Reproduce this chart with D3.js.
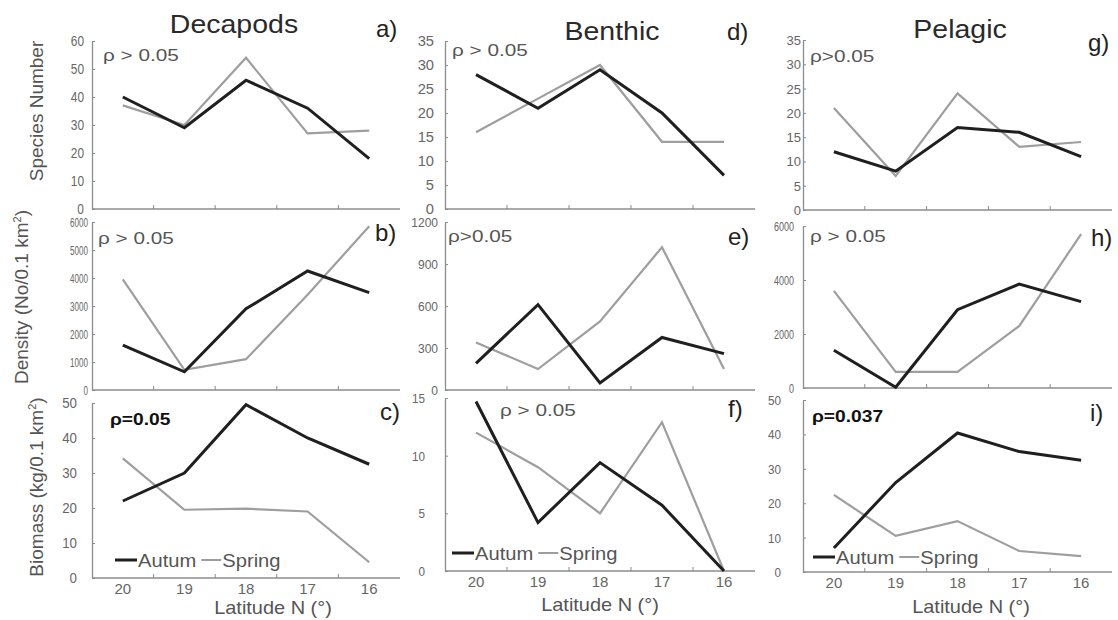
<!DOCTYPE html>
<html>
<head>
<meta charset="utf-8">
<script src="https://cdn.jsdelivr.net/npm/d3@7"></script>
<style>
  html, body { margin: 0; padding: 0; background: #fff; }
  svg { display: block; font-family: "Liberation Sans", Arial, sans-serif; }
</style>
</head>
<body>
<svg id="chart" width="1118" height="620"></svg>
<script>
// ---- data ---------------------------------------------------------------
const latitudes = ["20", "19", "18", "17", "16"];
const groups = ["Decapods", "Benthic", "Pelagic"];
const seasons = ["Autum", "Spring"];

// species number
const decapodSpeciesAutumn = [40, 29, 46, 36, 18];
const decapodSpeciesSpring = [37, 30, 54, 27, 28];
const benthicSpeciesAutumn = [28, 21, 29, 20, 7];
const benthicSpeciesSpring = [16, 23, 30, 14, 14];
const pelagicSpeciesAutumn = [12, 8, 17, 16, 11];
const pelagicSpeciesSpring = [21, 7, 24, 13, 14];

// density (No/0.1 km²)
const decapodDensityAutumn = [1600, 650, 2900, 4250, 3480];
const decapodDensitySpring = [3950, 720, 1100, 3400, 5850];
const benthicDensityAutumn = [190, 610, 50, 375, 260];
const benthicDensitySpring = [340, 150, 490, 1020, 150];
const pelagicDensityAutumn = [1400, 30, 2900, 3850, 3200];
const pelagicDensitySpring = [3600, 600, 600, 2300, 5700];

// biomass (kg/0.1 km²)
const decapodBiomassAutumn = [22, 30, 49.5, 40, 32.5];
const decapodBiomassSpring = [34.2, 19.5, 19.8, 19, 4.5];
const benthicBiomassAutumn = [14.7, 4.2, 9.4, 5.7, 0];
const benthicBiomassSpring = [12, 9, 5, 12.9, 0];
const pelagicBiomassAutumn = [7, 26, 40.4, 35, 32.5];
const pelagicBiomassSpring = [22.4, 10.5, 14.8, 6.1, 4.6];

// y-axis tick values
const ticksA = [0, 10, 20, 30, 40, 50, 60];
const ticksD = [0, 5, 10, 15, 20, 25, 30, 35];
const ticksG = [0, 5, 10, 15, 20, 25, 30, 35];
const ticksB = [0, 1000, 2000, 3000, 4000, 5000, 6000];
const ticksE = [0, 300, 600, 900, 1200];
const ticksH = [0, 2000, 4000, 6000];
const ticksC = [0, 10, 20, 30, 40, 50];
const ticksF = [0, 5, 10, 15];
const ticksI = [0, 10, 20, 30, 40, 50];

// significance notes
const notes = ["ρ > 0.05", "ρ > 0.05", "ρ=0.05",
               "ρ > 0.05", "ρ>0.05", "ρ > 0.05",
               "ρ>0.05", "ρ > 0.05", "ρ=0.037"];
const panelLetters = ["a)", "b)", "c)", "d)", "e)", "f)", "g)", "h)", "i)"];
const rowTitles = ["Species Number", "Density (No/0.1 km", "Biomass (kg/0.1 km"];
const xTitle = "Latitude N (°)";

// ---- layout ---------------------------------------------------------------
const COLOR_AUT = "#1f1f1f";
const COLOR_SPR = "#9e9e9e";
const AXIS = "#8c8c8c";
const TXT = "#555";

// horizontal extent of the three columns
const cols = [
  { x0: 92, x1: 400 },
  { x0: 445, x1: 755 },
  { x0: 803, x1: 1112 }
];

const panels = [
  // column 0 — Decapods
  { col: 0, row: 0, aut: decapodSpeciesAutumn, spr: decapodSpeciesSpring, ticks: ticksA, top: 41, bot: 209,
    tk: { size: 14, sx: 0.85, pad: 8 }, note: { x: 103, y: 61, bold: false }, letter: { x: 376, y: 37 } },
  { col: 0, row: 1, aut: decapodDensityAutumn, spr: decapodDensitySpring, ticks: ticksB, top: 222, bot: 390,
    tk: { size: 13, sx: 0.62, pad: 4 }, note: { x: 98, y: 244, bold: false }, letter: { x: 375, y: 241 } },
  { col: 0, row: 2, aut: decapodBiomassAutumn, spr: decapodBiomassSpring, ticks: ticksC, top: 403, bot: 578,
    tk: { size: 14, sx: 0.95, pad: 15 }, note: { x: 110, y: 425, bold: true },
    letter: { x: 380, y: 420 }, legend: { x: 115, y: 560 }, xt: { x: 273, y: 614 } },
  // column 1 — Benthic
  { col: 1, row: 0, aut: benthicSpeciesAutumn, spr: benthicSpeciesSpring, ticks: ticksD, top: 41, bot: 209,
    tk: { size: 14, sx: 1.05, pad: 11 }, note: { x: 452, y: 56, bold: false }, letter: { x: 727, y: 40 } },
  { col: 1, row: 1, aut: benthicDensityAutumn, spr: benthicDensitySpring, ticks: ticksE, top: 222, bot: 390,
    tk: { size: 12, sx: 1.0, pad: 7 }, note: { x: 448, y: 242, bold: false }, letter: { x: 728, y: 245 } },
  { col: 1, row: 2, aut: benthicBiomassAutumn, spr: benthicBiomassSpring, ticks: ticksF, top: 398, bot: 571,
    tk: { size: 13, sx: 0.9, pad: 20 }, note: { x: 500, y: 416, bold: false },
    letter: { x: 728, y: 417 }, legend: { x: 452, y: 553 }, xt: { x: 600, y: 611 } },
  // column 2 — Pelagic
  { col: 2, row: 0, aut: pelagicSpeciesAutumn, spr: pelagicSpeciesSpring, ticks: ticksG, top: 40, bot: 210,
    tk: { size: 13, sx: 1.0, pad: 2 }, note: { x: 810, y: 62, bold: false }, letter: { x: 1088, y: 51 } },
  { col: 2, row: 1, aut: pelagicDensityAutumn, spr: pelagicDensitySpring, ticks: ticksH, top: 226, bot: 388,
    tk: { size: 12, sx: 0.75, pad: 9 }, note: { x: 810, y: 242, bold: false }, letter: { x: 1091, y: 246 } },
  { col: 2, row: 2, aut: pelagicBiomassAutumn, spr: pelagicBiomassSpring, ticks: ticksI, top: 400, bot: 572,
    tk: { size: 13, sx: 0.9, pad: 22 }, note: { x: 812, y: 422, bold: true },
    letter: { x: 1090, y: 421 }, legend: { x: 813, y: 557 }, xt: { x: 971, y: 613 } }
];

const titlePos = [{ x: 234, y: 33 }, { x: 612, y: 40 }, { x: 960, y: 38 }];
const rowTitlePos = [{ x: 36, y: 111 }, { x: 21, y: 297 }, { x: 36, y: 487 }];

// ---- drawing ----------------------------------------------------------------
const svg = d3.select("#chart");

function label(parent, o) {
  const t = parent.append("text")
    .attr("transform", `translate(${o.x},${o.y}) scale(${o.sx || 1},1)`)
    .attr("font-size", o.size)
    .attr("fill", o.fill || TXT)
    .attr("text-anchor", o.anchor || "start")
    .text(o.text);
  if (o.weight) t.attr("font-weight", o.weight);
  return t;
}

panels.forEach((p, i) => {
  const c = cols[p.col];
  const g = svg.append("g");

  const x = d3.scaleBand().domain(latitudes).range([c.x0, c.x1]).padding(0);
  const y = d3.scaleLinear().domain([0, d3.max(p.ticks)]).range([p.bot, p.top]);
  const cx = d => x(d) + x.bandwidth() / 2;

  // y axis with inward ticks
  const yAxis = d3.axisLeft(y).tickValues(p.ticks)
    .tickSizeInner(-3).tickSizeOuter(0).tickPadding(0)
    .tickFormat(d3.format("d"));
  const ya = g.append("g").attr("transform", `translate(${c.x0},0)`).call(yAxis);
  ya.select(".domain").attr("stroke", AXIS).attr("stroke-width", 1.3);
  ya.selectAll(".tick line").attr("stroke", AXIS);
  ya.selectAll(".tick text")
    .attr("x", null).attr("dy", "0.35em")
    .attr("transform", `translate(${-p.tk.pad},0) scale(${p.tk.sx},1)`)
    .attr("font-size", p.tk.size)
    .attr("font-family", "Liberation Sans, Arial, sans-serif")
    .attr("fill", "#666");

  // x axis: baseline with tick marks at category boundaries
  g.append("line")
    .attr("x1", c.x0).attr("x2", c.x1)
    .attr("y1", p.bot).attr("y2", p.bot)
    .attr("stroke", AXIS).attr("stroke-width", 1.3);
  g.selectAll("line.bound")
    .data(latitudes.slice(1))
    .join("line")
    .attr("class", "bound")
    .attr("x1", d => x(d)).attr("x2", d => x(d))
    .attr("y1", p.bot).attr("y2", p.bot - 4)
    .attr("stroke", AXIS);

  if (p.row === 2) {
    const xAxis = d3.axisBottom(x).tickSize(0).tickPadding(0);
    const xa = g.append("g").attr("transform", `translate(0,${p.bot})`).call(xAxis);
    xa.select(".domain").remove();
    xa.selectAll(".tick text")
      .attr("y", 16).attr("dy", null)
      .attr("font-size", 15)
      .attr("font-family", "Liberation Sans, Arial, sans-serif")
      .attr("fill", "#666");
    label(svg, { x: p.xt.x, y: p.xt.y, text: xTitle, size: 19, sx: 1.05, anchor: "middle", fill: "#555" });
  }

  // series lines
  const line = d3.line().x((d, k) => cx(latitudes[k])).y(d => y(d));
  g.append("path").datum(p.spr)
    .attr("d", line).attr("fill", "none")
    .attr("stroke", COLOR_SPR).attr("stroke-width", 2.2)
    .attr("stroke-linejoin", "miter");
  g.append("path").datum(p.aut)
    .attr("d", line).attr("fill", "none")
    .attr("stroke", COLOR_AUT).attr("stroke-width", 3)
    .attr("stroke-linejoin", "miter");

  // significance note
  if (p.note.bold) {
    label(g, { x: p.note.x, y: p.note.y, text: notes[i], size: 16, sx: 1.2, weight: "bold", fill: "#111" });
  } else {
    label(g, { x: p.note.x, y: p.note.y, text: notes[i], size: 17, sx: 1.22, fill: "#555" });
  }

  // legend
  if (p.legend) {
    const L = p.legend;
    g.append("line").attr("x1", L.x).attr("x2", L.x + 22)
      .attr("y1", L.y).attr("y2", L.y)
      .attr("stroke", COLOR_AUT).attr("stroke-width", 3);
    const t1 = label(g, { x: L.x + 23, y: L.y + 6.5, text: seasons[0], size: 18, sx: 1.12 });
    const w1 = t1.node().getComputedTextLength() * 1.12;
    const gx = L.x + 23 + w1 + 5;
    g.append("line").attr("x1", gx).attr("x2", gx + 20)
      .attr("y1", L.y).attr("y2", L.y)
      .attr("stroke", COLOR_SPR).attr("stroke-width", 2);
    label(g, { x: gx + 21, y: L.y + 6.5, text: seasons[1], size: 18, sx: 1.12 });
  }

  // panel letter
  label(svg, { x: p.letter.x, y: p.letter.y, text: panelLetters[i], size: 24, fill: "#222" });
});

// column titles
groups.forEach((name, k) => {
  label(svg, { x: titlePos[k].x, y: titlePos[k].y, text: name, size: 25, sx: 1.14, anchor: "middle", fill: "#2a2a2a" });
});

// row (y-axis) titles, rotated
rowTitles.forEach((txt, k) => {
  const t = svg.append("text")
    .attr("transform", `translate(${rowTitlePos[k].x},${rowTitlePos[k].y}) rotate(-90)`)
    .attr("text-anchor", "middle")
    .attr("dy", "0.35em")
    .attr("font-size", 19)
    .attr("fill", TXT);
  t.append("tspan").text(txt);
  if (k > 0) {
    t.append("tspan").attr("font-size", 11).attr("dy", "-0.6em").text("2");
    t.append("tspan").attr("dy", "0.38em").text(")");
  }
});
</script>
</body>
</html>
